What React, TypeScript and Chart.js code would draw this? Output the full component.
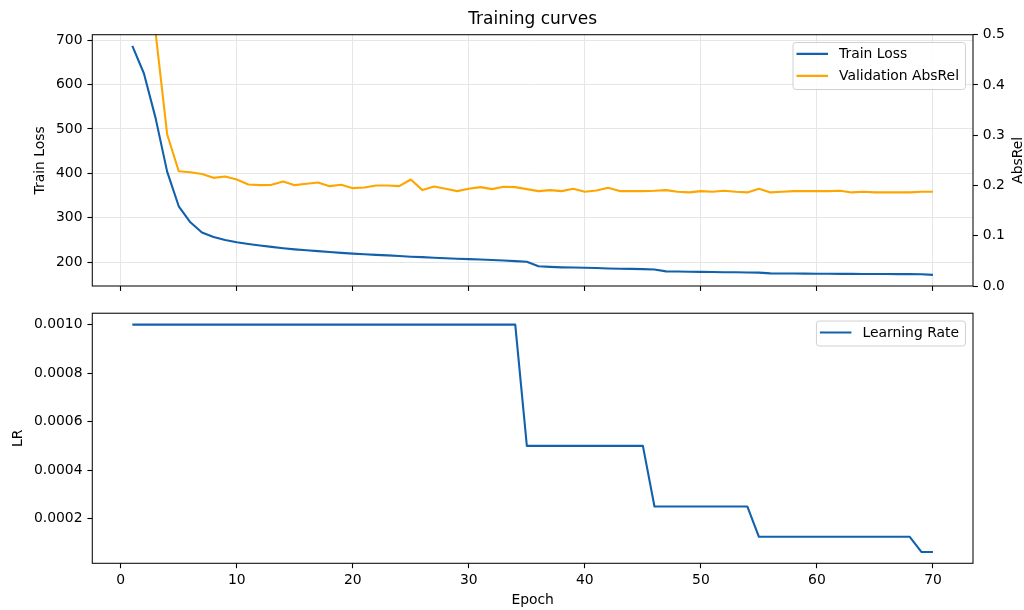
import React, { useEffect, useRef } from "react";
import { Chart, registerables } from "chart.js";

Chart.register(...registerables);

// ---------- data ----------
const EPOCHS = [
  1, 2, 3, 4, 5, 6, 7, 8, 9, 10,
  11, 12, 13, 14, 15, 16, 17, 18, 19, 20,
  21, 22, 23, 24, 25, 26, 27, 28, 29, 30,
  31, 32, 33, 34, 35, 36, 37, 38, 39, 40,
  41, 42, 43, 44, 45, 46, 47, 48, 49, 50,
  51, 52, 53, 54, 55, 56, 57, 58, 59, 60,
  61, 62, 63, 64, 65, 66, 67, 68, 69, 70,
];

const TRAIN_LOSS = [
  687, 625, 525, 404, 326, 290, 267, 257, 250, 245,
  241, 237.5, 234.5, 231.5, 229, 227, 225, 223, 221, 219.5,
  218, 216.5, 215.5, 214, 212.5, 211.5, 210, 209, 208, 207,
  206, 205, 204, 202.5, 201, 191, 189.5, 188.5, 188, 187.5,
  187, 186, 185.5, 185, 184.5, 183.5, 179.5, 179, 178.5, 178.2,
  178, 177.6, 177.3, 177, 176.6, 175, 174.8, 174.6, 174.4, 174.2,
  174, 173.9, 173.8, 173.6, 173.5, 173.4, 173.3, 173.2, 173, 171.5,
];

const VAL_ABSREL = [
  1.1, 0.75, 0.505, 0.302, 0.2284, 0.2264, 0.223, 0.2152, 0.2178, 0.2119,
  0.202, 0.2007, 0.2013, 0.2079, 0.2007, 0.2033, 0.206, 0.1987, 0.2013, 0.1947,
  0.196, 0.2, 0.2, 0.1987, 0.2119, 0.1908, 0.198, 0.1934, 0.1888, 0.1934,
  0.1967, 0.1928, 0.1974, 0.1967, 0.1928, 0.1888, 0.1908, 0.1888, 0.1934, 0.1875,
  0.1901, 0.1954, 0.1888, 0.1888, 0.1888, 0.1895, 0.1908, 0.1875, 0.1862, 0.1888,
  0.1875, 0.1895, 0.1875, 0.1862, 0.1934, 0.1862, 0.1875, 0.1888, 0.1888, 0.1888,
  0.1888, 0.1895, 0.1862, 0.1875, 0.1862, 0.1862, 0.1862, 0.1862, 0.1875, 0.1875,
];

const LEARNING_RATE = [
  0.001, 0.001, 0.001, 0.001, 0.001, 0.001, 0.001, 0.001, 0.001, 0.001,
  0.001, 0.001, 0.001, 0.001, 0.001, 0.001, 0.001, 0.001, 0.001, 0.001,
  0.001, 0.001, 0.001, 0.001, 0.001, 0.001, 0.001, 0.001, 0.001, 0.001,
  0.001, 0.001, 0.001, 0.001, 0.0005, 0.0005, 0.0005, 0.0005, 0.0005, 0.0005,
  0.0005, 0.0005, 0.0005, 0.0005, 0.0005, 0.00025, 0.00025, 0.00025, 0.00025, 0.00025,
  0.00025, 0.00025, 0.00025, 0.00025, 0.000125, 0.000125, 0.000125, 0.000125, 0.000125, 0.000125,
  0.000125, 0.000125, 0.000125, 0.000125, 0.000125, 0.000125, 0.000125, 0.000125, 0.0000625, 0.0000625,
];

const X_TICKS = [0, 10, 20, 30, 40, 50, 60, 70];
const LOSS_TICKS = [200, 300, 400, 500, 600, 700];
const ABSREL_TICKS = [0, 0.1, 0.2, 0.3, 0.4, 0.5];
const LR_TICKS = [0.0002, 0.0004, 0.0006, 0.0008, 0.001];

const TITLE = "Training curves";
const X_LABEL = "Epoch";
const LOSS_LABEL = "Train Loss";
const ABSREL_LABEL = "AbsRel";
const LR_LABEL = "LR";
const LOSS_SERIES = "Train Loss";
const ABSREL_SERIES = "Validation AbsRel";
const LR_SERIES = "Learning Rate";

// ---------- style ----------
const FONT = "'DejaVu Sans', sans-serif";
const FS = 13.9;
const BLUE = "#1261ad";
const ORANGE = "#ffa500";
const GRID = "#e6e6e6";
const INK = "#000000";
const TICK_LEN = 4.9;
const X_RANGE = { min: -2.45, max: 73.45 };
const LEFT_W = 92.3;
const RIGHT_W = 51;

const setTicks = (vals: number[]) => (s: any) => {
  s.ticks = vals.map((v) => ({ value: v }));
};

const framePlugin = {
  id: "frame",
  afterDraw(chart: any) {
    const { ctx, chartArea: a } = chart;
    ctx.save();
    ctx.strokeStyle = "#111";
    ctx.lineWidth = 1.1;
    ctx.strokeRect(a.left, a.top, a.right - a.left, a.bottom - a.top);
    ctx.restore();
  },
};

const makeLegend = (items: { label: string; color: string }[]) => ({
  id: "mplLegend",
  afterDraw(chart: any) {
    const { ctx, chartArea: a } = chart;
    ctx.save();
    ctx.font = `${FS}px ${FONT}`;
    const tw = Math.max(...items.map((i) => ctx.measureText(i.label).width));
    const w = 3.5 + 31.5 + 11 + tw + 6.5;
    const h = 22 * items.length + 3;
    const right = a.right - 7.5;
    const top = a.top + 7.8;
    const left = right - w;
    ctx.beginPath();
    (ctx as any).roundRect(left, top, w, h, 3);
    ctx.fillStyle = "rgba(255,255,255,0.85)";
    ctx.fill();
    ctx.strokeStyle = "#d0d0d0";
    ctx.lineWidth = 1;
    ctx.stroke();
    items.forEach((it, i) => {
      const cy = top + 11.4 + i * 22;
      ctx.beginPath();
      ctx.moveTo(left + 3.5, cy);
      ctx.lineTo(left + 35, cy);
      ctx.strokeStyle = it.color;
      ctx.lineWidth = 2.1;
      ctx.stroke();
      ctx.fillStyle = INK;
      ctx.textAlign = "left";
      ctx.textBaseline = "middle";
      ctx.fillText(it.label, left + 46, cy + 0.5);
    });
    ctx.restore();
  },
});

const rightTitlePlugin = {
  id: "rightTitle",
  afterDraw(chart: any) {
    const { ctx, chartArea: a } = chart;
    ctx.save();
    ctx.font = `${FS}px ${FONT}`;
    ctx.fillStyle = INK;
    ctx.textAlign = "center";
    ctx.textBaseline = "middle";
    ctx.translate(1018, (a.top + a.bottom) / 2);
    ctx.rotate(-Math.PI / 2);
    ctx.fillText(ABSREL_LABEL, 0, 0);
    ctx.restore();
  },
};

const tickFont = { family: FONT, size: FS };

export default function App() {
  const topRef = useRef<HTMLCanvasElement>(null);
  const botRef = useRef<HTMLCanvasElement>(null);

  useEffect(() => {
    const lineStyle = {
      pointRadius: 0,
      borderWidth: 2.1,
      tension: 0,
      borderJoinStyle: "round" as const,
      borderCapStyle: "butt" as const,
      fill: false,
    };

    const top = new Chart(topRef.current!, {
      type: "line",
      data: {
        datasets: [
          {
            ...lineStyle,
            label: LOSS_SERIES,
            data: EPOCHS.map((e, i) => ({ x: e, y: TRAIN_LOSS[i] })),
            borderColor: BLUE,
            backgroundColor: BLUE,
            yAxisID: "y",
            order: 1,
          },
          {
            ...lineStyle,
            label: ABSREL_SERIES,
            data: EPOCHS.map((e, i) => ({ x: e, y: VAL_ABSREL[i] })),
            borderColor: ORANGE,
            backgroundColor: ORANGE,
            yAxisID: "y1",
            order: 0,
            clip: 0,
          },
        ],
      },
      options: {
        animation: false,
        responsive: false,
        devicePixelRatio: 1,
        layout: { padding: 0 },
        plugins: {
          legend: { display: false },
          tooltip: { enabled: false },
          title: {
            display: true,
            text: TITLE,
            fullSize: false,
            color: INK,
            font: { family: FONT, size: 17, weight: "normal" },
            padding: { top: 9.7, bottom: 4.6 },
          },
        },
        scales: {
          x: {
            type: "linear",
            min: X_RANGE.min,
            max: X_RANGE.max,
            afterBuildTicks: setTicks(X_TICKS),
            afterFit: (s: any) => {
              s.height = 14;
            },
            ticks: { callback: () => "", font: tickFont },
            grid: { color: GRID, lineWidth: 1, tickColor: INK, tickLength: TICK_LEN, tickWidth: 1.1 },
            border: { display: false },
          },
          y: {
            position: "left",
            min: 146.5,
            max: 712.3,
            afterBuildTicks: setTicks(LOSS_TICKS),
            afterFit: (s: any) => {
              s.width = LEFT_W;
            },
            ticks: { font: tickFont, color: INK, padding: 4.9, callback: (v: any) => String(v) },
            grid: { color: GRID, lineWidth: 1, tickColor: INK, tickLength: TICK_LEN, tickWidth: 1.1 },
            border: { display: false },
            title: { display: true, text: LOSS_LABEL, color: INK, font: tickFont, padding: { top: 32, bottom: 0 } },
          },
          y1: {
            position: "right",
            min: 0,
            max: 0.5,
            afterBuildTicks: setTicks(ABSREL_TICKS),
            afterFit: (s: any) => {
              s.width = RIGHT_W;
            },
            ticks: { font: tickFont, color: INK, padding: 4.9, callback: (v: any) => Number(v).toFixed(1) },
            grid: { drawOnChartArea: false, tickColor: INK, tickLength: TICK_LEN, tickWidth: 1.1 },
            border: { display: false },
          },
        },
      } as any,
      plugins: [framePlugin, makeLegend([
        { label: LOSS_SERIES, color: BLUE },
        { label: ABSREL_SERIES, color: ORANGE },
      ]), rightTitlePlugin],
    });

    const bot = new Chart(botRef.current!, {
      type: "line",
      data: {
        datasets: [
          {
            ...lineStyle,
            label: LR_SERIES,
            data: EPOCHS.map((e, i) => ({ x: e, y: LEARNING_RATE[i] })),
            borderColor: BLUE,
            backgroundColor: BLUE,
          },
        ],
      },
      options: {
        animation: false,
        responsive: false,
        devicePixelRatio: 1,
        layout: { padding: { top: 11.7, right: RIGHT_W, left: 0, bottom: 0 } },
        plugins: {
          legend: { display: false },
          tooltip: { enabled: false },
        },
        scales: {
          x: {
            type: "linear",
            min: X_RANGE.min,
            max: X_RANGE.max,
            afterBuildTicks: setTicks(X_TICKS),
            afterFit: (s: any) => {
              s.height = 46.7;
            },
            ticks: { font: tickFont, color: INK, padding: 3.5, maxRotation: 0, callback: (v: any) => String(v) },
            grid: { drawOnChartArea: false, tickColor: INK, tickLength: TICK_LEN, tickWidth: 1.1 },
            border: { display: false },
            title: { display: true, text: X_LABEL, color: INK, font: tickFont, padding: { top: 0, bottom: 1.2 } },
          },
          y: {
            position: "left",
            min: 0.000015625,
            max: 0.001046875,
            afterBuildTicks: setTicks(LR_TICKS),
            afterFit: (s: any) => {
              s.width = LEFT_W;
            },
            ticks: { font: tickFont, color: INK, padding: 4.9, callback: (v: any) => Number(v).toFixed(4) },
            grid: { drawOnChartArea: false, tickColor: INK, tickLength: TICK_LEN, tickWidth: 1.1 },
            border: { display: false },
            title: { display: true, text: LR_LABEL, color: INK, font: tickFont, padding: { top: 10, bottom: 0 } },
          },
        },
      } as any,
      plugins: [framePlugin, makeLegend([{ label: LR_SERIES, color: BLUE }])],
    });

    return () => {
      top.destroy();
      bot.destroy();
    };
  }, []);

  return (
    <div style={{ position: "absolute", left: 0, top: 0, width: 1024, height: 610, background: "#fff" }}>
      <canvas ref={topRef} width={1024} height={300} style={{ position: "absolute", left: 0, top: 0 }} />
      <canvas ref={botRef} width={1024} height={310} style={{ position: "absolute", left: 0, top: 300 }} />
    </div>
  );
}
